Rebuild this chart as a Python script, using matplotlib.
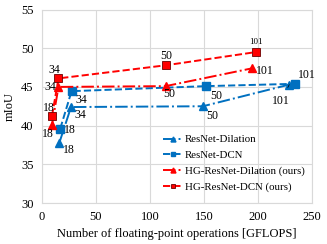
import matplotlib.pyplot as plt

plt.rcParams['font.family'] = ['Liberation Serif', 'DejaVu Serif']

# --- Dane ---
layers = ['18', '34', '50', '101']

dil_x = [16, 27, 149, 229]
dil_y = [37.7, 42.4, 42.5, 45.3]

dcn_x = [17, 27.5, 152, 234]
dcn_y = [39.6, 44.45, 45.1, 45.4]

hg_dil_x = [9.3, 15.4, 114.5, 194.5]
hg_dil_y = [40.05, 45.0, 45.1, 47.4]

hg_dcn_x = [9.3, 15.4, 115, 198]
hg_dcn_y = [41.2, 46.1, 47.8, 49.5]

blue = '#0070C0'
red = '#FF0000'

fig = plt.figure(figsize=(3.27, 2.44), dpi=100)
ax = fig.add_axes([0.128, 0.168, 0.826, 0.793])

ax.plot(dil_x, dil_y, color=blue, linestyle='-.', marker='^', markersize=6,
        linewidth=1.4, label='ResNet-Dilation')
ax.plot(dcn_x, dcn_y, color=blue, linestyle='--', marker='s', markersize=6,
        linewidth=1.4, label='ResNet-DCN')
ax.plot(hg_dil_x, hg_dil_y, color=red, linestyle='-.', marker='^', markersize=6,
        linewidth=1.4, label='HG-ResNet-Dilation (ours)')
ax.plot(hg_dcn_x, hg_dcn_y, color=red, linestyle='--', marker='s', markersize=6,
        markeredgecolor='#6b0000', markeredgewidth=0.6,
        linewidth=1.4, label='HG-ResNet-DCN (ours)')

# --- Etykiety punktów (przesunięcia w punktach) ---
def label(xs, ys, offsets, sizes=None, skip=()):
    for i, (x, y) in enumerate(zip(xs, ys)):
        if i in skip:
            continue
        dx, dy = offsets[i]
        fs = 8.5 if sizes is None else sizes[i]
        ax.annotate(layers[i], (x, y), xytext=(dx, dy), textcoords='offset points',
                    ha='center', va='center', fontsize=fs)

label(dil_x, dil_y, [(7, -5), (7, -6), (7, -7), (0, 0)], skip=(3,))
label(dcn_x, dcn_y, [(7, -1), (7, -6), (7, -7), (9, 6)])
label(hg_dil_x, hg_dil_y, [(-3, -6), (-6, 0), (3, -6), (9, -2)])
label(hg_dcn_x, hg_dcn_y, [(-2, 6), (-3, 6), (0, 7), (0, 7)], [8.5, 8.5, 8.5, 6.5])

# etykieta 101 dla ResNet-Dilation z linią odniesienia
ax.annotate(layers[3], (dil_x[3], dil_y[3]), xytext=(-6, -12), textcoords='offset points',
            ha='center', va='center', fontsize=8.5,
            arrowprops=dict(arrowstyle='-', color='black', lw=0.5, shrinkA=4, shrinkB=0))

ax.set_xlim(0, 250)
ax.set_ylim(30, 55)
ax.set_xticks(range(0, 251, 50))
ax.set_yticks(range(30, 56, 5))
ax.grid(True, color='#d9d9d9', linewidth=0.8)
ax.set_axisbelow(True)
for s in ax.spines.values():
    s.set_color('#d9d9d9')
ax.tick_params(length=0, labelsize=9, pad=6)

ax.set_xlabel('Number of floating-point operations [GFLOPS]', fontsize=9, labelpad=3)
ax.set_ylabel('mIoU', fontsize=9, labelpad=4)

ax.legend(loc='lower right', bbox_to_anchor=(1.0, 0.02), frameon=False, fontsize=7.8,
          handlelength=1.8, handletextpad=0.15, labelspacing=0.55, borderaxespad=0.3,
          markerscale=0.6)

fig.savefig('out.png', dpi=100)
